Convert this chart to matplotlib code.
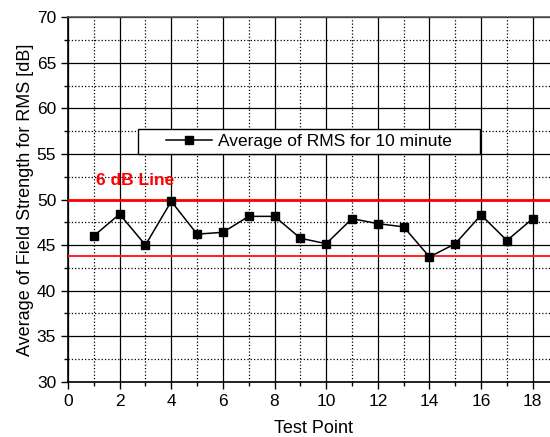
import numpy as np
import matplotlib
matplotlib.use('Agg')
import matplotlib.pyplot as plt
from matplotlib.ticker import MultipleLocator
from matplotlib.patches import Rectangle

plt.rcParams['font.family'] = ['Liberation Sans', 'DejaVu Sans']

# data
test_point = np.arange(1, 19)
avg_rms = [46.0, 48.4, 45.0, 49.8, 46.2, 46.4, 48.15, 48.15, 45.75,
           45.15, 47.9, 47.35, 47.0, 43.7, 45.15, 48.3, 45.5, 47.9]
upper_line = 49.95
lower_line = 43.85

fig = plt.figure(figsize=(5.5, 4.37), dpi=100)
ax = fig.add_axes([0.1236, 0.1265, 0.892, 0.8339])

ax.set_xlim(0, 19)
ax.set_ylim(30, 70)
ax.xaxis.set_major_locator(MultipleLocator(2))
ax.xaxis.set_minor_locator(MultipleLocator(1))
ax.yaxis.set_major_locator(MultipleLocator(5))
ax.yaxis.set_minor_locator(MultipleLocator(2.5))

ax.grid(which='major', color='black', linestyle='-', linewidth=0.9)
ax.grid(which='minor', color='black', linestyle=':', linewidth=0.9)
ax.set_axisbelow(True)

ax.axhline(upper_line, color='#ff0000', linewidth=2.0, zorder=3)
ax.axhline(lower_line, color='#ff2020', linewidth=1.4, zorder=3)

ax.plot(test_point, avg_rms, color='black', linewidth=1.1, marker='s',
        markersize=5.5, markerfacecolor='black', markeredgecolor='black',
        label='Average of RMS for 10 minute', zorder=4)

ax.text(1.1, 52.1, '6 dB Line', color='#ff0000', fontsize=12.5,
        fontweight='bold', va='center', ha='left')

# legend box (wide padding like the original)
ax.add_patch(Rectangle((0.1427, 0.6249), 0.6971, 0.0686, transform=ax.transAxes,
                       facecolor='white', edgecolor='black', linewidth=1.0,
                       zorder=5))
leg = ax.legend(loc='center', bbox_to_anchor=(0.491, 0.659),
                fontsize=12.5, frameon=False, handlelength=2.65,
                handletextpad=0.3, borderpad=0, borderaxespad=0)
leg.set_zorder(6)

ax.tick_params(which='major', direction='out', length=5, width=1,
               labelsize=12.5, colors='black')
ax.tick_params(which='minor', direction='out', length=3, width=1)
for s in ax.spines.values():
    s.set_linewidth(1.2)
ax.spines['top'].set_color('#555555')

ax.set_xlabel('Test Point', fontsize=13, labelpad=8)
ax.set_ylabel('Average of Field Strength for RMS [dB]', fontsize=13, labelpad=2)

fig.savefig('out.png', dpi=100)
